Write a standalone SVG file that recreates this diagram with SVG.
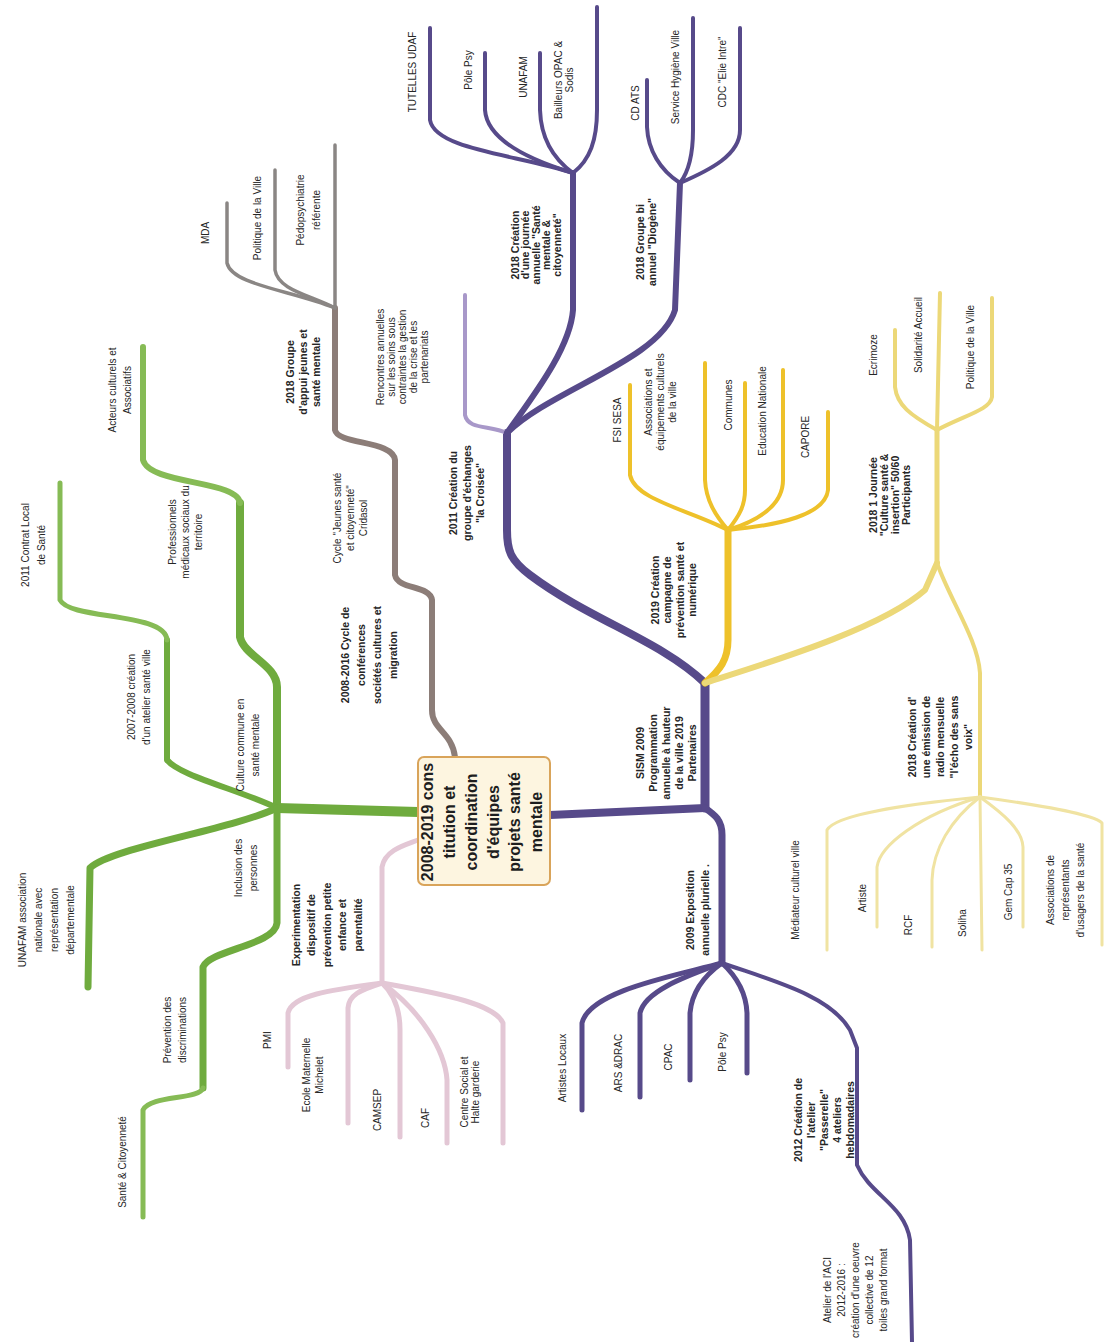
<svg xmlns="http://www.w3.org/2000/svg" width="1114" height="1342" viewBox="0 0 1114 1342">
<style>
text{font-family:"Liberation Sans",Arial,sans-serif;fill:#262626}
.s{font-size:10px}
.b{font-size:10.5px;font-weight:bold}
.c{font-size:16px;font-weight:bold;fill:#1e1e1e}
path{fill:none;stroke-linecap:round;stroke-linejoin:round}
.g{stroke:#6fab3e}
.gl{stroke:#86bb55}
.br{stroke:#8c7d78}
.gr{stroke:#8a8684}
.p{stroke:#574a8a}
.lp{stroke:#a898c9}
.y{stroke:#eec12a}
.ly{stroke:#ecd878}
.vy{stroke:#f0e3a2}
.pk{stroke:#e3c7d5}
</style>
<rect width="1114" height="1342" fill="#ffffff"/>
<g id="connectors">
<!-- green -->
<path class="g" stroke-width="10" d="M418,812 L277,808"/>
<path class="g" stroke-width="8" d="M277,808 L277,687 C277,665 244,656 240,637 L240,503"/>
<path class="gl" stroke-width="6" d="M240,503 C238,480 150,485 143,460 L143,347"/>
<path class="g" stroke-width="6" d="M277,808 C240,790 180,776 167,760 L167,640"/>
<path class="gl" stroke-width="5" d="M167,640 C165,612 70,620 60,600 L60,483"/>
<path class="g" stroke-width="7" d="M277,808 C230,830 110,848 90,868 L88,987"/>
<path class="g" stroke-width="7" d="M277,808 L277,923 C275,945 210,950 203,967 L203,1088"/>
<path class="gl" stroke-width="5" d="M203,1088 C200,1100 150,1095 143,1110 L143,1217"/>
<!-- brown -->
<path class="br" stroke-width="6" d="M455,757 C452,732 432,730 432,710 L432,600 C430,585 398,590 395,575 L395,460 C393,440 338,445 335,430 L335,308"/>
<path class="gr" stroke-width="3.5" d="M335,308 L335,145"/>
<path class="gr" stroke-width="3.5" d="M335,308 C310,295 278,290 275,270 L275,170"/>
<path class="gr" stroke-width="3.5" d="M335,308 C290,290 232,285 227,263 L227,203"/>
<!-- purple -->
<path class="p" stroke-width="8" d="M550,815 L705,808"/>
<path class="p" stroke-width="9" d="M705,808 L705,683"/>
<path class="p" stroke-width="7" d="M705,808 C715,815 722,820 722,835 L722,963"/>
<path class="p" stroke-width="8" d="M705,683 C660,640 590,620 530,575 C510,560 507,550 507,530 L507,433"/>
<path class="lp" stroke-width="4" d="M507,433 C490,425 468,430 465,415 L465,295"/>
<path class="p" stroke-width="6" d="M507,433 C530,400 570,350 573,310 L573,173"/>
<path class="p" stroke-width="6" d="M507,433 C550,390 660,360 675,310 L680,183"/>
<path class="p" stroke-width="4" d="M573,173 C520,155 435,150 430,120 L430,28"/>
<path class="p" stroke-width="4" d="M573,173 C530,160 487,140 485,110 L485,53"/>
<path class="p" stroke-width="4" d="M573,173 C555,160 541,140 540,110 L540,53"/>
<path class="p" stroke-width="4" d="M573,173 C590,160 597,140 597,110 L597,7"/>
<path class="p" stroke-width="4" d="M680,183 C660,170 648,150 647,127 L647,80"/>
<path class="p" stroke-width="4" d="M680,183 C690,170 693,150 693,130 L693,18"/>
<path class="p" stroke-width="4" d="M680,183 C710,170 740,155 740,130 L740,28"/>
<path class="p" stroke-width="5" d="M722,963 C680,975 590,990 582,1023 L582,1110"/>
<path class="p" stroke-width="5" d="M722,963 C690,975 645,990 640,1013 L640,1097"/>
<path class="p" stroke-width="5" d="M722,963 C705,975 692,990 690,1013 L690,1080"/>
<path class="p" stroke-width="5" d="M722,963 C735,975 746,990 747,1013 L747,1073"/>
<path class="p" stroke-width="4" d="M722,963 C770,980 830,995 850,1030 L857,1048 L857,1165 C870,1195 905,1205 910,1240 L912,1342"/>
<!-- gold -->
<path class="y" stroke-width="7" d="M705,683 C720,670 728,660 728,640 L728,530"/>
<path class="y" stroke-width="4" d="M728,530 C690,510 635,500 630,475 L630,385"/>
<path class="y" stroke-width="4" d="M728,530 C715,515 706,500 705,480 L705,363"/>
<path class="y" stroke-width="4" d="M728,530 C740,515 745,505 745,490 L745,383"/>
<path class="y" stroke-width="4" d="M728,530 C760,520 783,505 783,480 L783,370"/>
<path class="y" stroke-width="4" d="M728,530 C780,525 825,515 828,490 L828,412"/>
<!-- light yellow -->
<path class="ly" stroke-width="6" d="M705,683 C760,665 880,630 925,590 L937,563"/>
<path class="ly" stroke-width="5" d="M937,563 L937,430"/>
<path class="ly" stroke-width="4" d="M937,430 C910,415 897,405 895,387 L895,330"/>
<path class="ly" stroke-width="4" d="M937,430 L940,293"/>
<path class="ly" stroke-width="4" d="M937,430 C965,415 990,410 992,397 L992,298"/>
<path class="ly" stroke-width="4" d="M937,563 C950,600 978,640 980,673 L980,797"/>
<path class="vy" stroke-width="3" d="M980,797 C900,805 835,815 827,830 L827,950"/>
<path class="vy" stroke-width="3" d="M980,797 C920,815 880,845 877,867 L877,927"/>
<path class="vy" stroke-width="3" d="M980,797 C950,820 933,850 932,880 L932,947"/>
<path class="vy" stroke-width="3" d="M980,797 L982,950"/>
<path class="vy" stroke-width="3" d="M980,797 C1005,815 1022,830 1023,847 L1023,927"/>
<path class="vy" stroke-width="3" d="M980,797 C1040,805 1095,815 1102,823 L1102,945"/>
<!-- pink -->
<path class="pk" stroke-width="5" d="M418,840 C405,845 385,850 382,867 L382,983"/>
<path class="pk" stroke-width="5" d="M382,983 C330,990 292,995 288,1013 L288,1067"/>
<path class="pk" stroke-width="5" d="M382,983 C360,990 349,995 348,1008 L348,1123"/>
<path class="pk" stroke-width="5" d="M382,983 C395,995 400,1010 400,1030 L400,1137"/>
<path class="pk" stroke-width="5" d="M382,983 C420,1010 445,1050 447,1080 L447,1143"/>
<path class="pk" stroke-width="5" d="M382,983 C450,995 495,1005 503,1023 L503,1143"/>
</g>
<g id="center">
<rect x="418" y="757" width="132" height="128" rx="6" fill="#fdf5e0" stroke="#d9a45a" stroke-width="2"/>
<text class="c" transform="translate(482,822) rotate(-90)" text-anchor="middle"><tspan x="0" y="-48.9">2008-2019 cons</tspan><tspan x="0" y="-27.1">titution et</tspan><tspan x="0" y="-5.3">coordination</tspan><tspan x="0" y="16.5">d'équipes</tspan><tspan x="0" y="38.3">projets santé</tspan><tspan x="0" y="60.1">mentale</tspan></text>
</g>
<g id="green-labels" text-anchor="middle">
<g id="n-acteurs"><text class="s" transform="translate(120,390) rotate(-90)"><tspan x="0" y="-4">Acteurs culturels et</tspan><tspan x="0" y="11">Associatifs</tspan></text></g>
<g id="n-professionnels"><text class="s" transform="translate(185,532) rotate(-90)"><tspan x="0" y="-9.5">Professionnels</tspan><tspan x="0" y="3.5">médicaux sociaux du</tspan><tspan x="0" y="16.5">territoire</tspan></text></g>
<g id="n-contrat"><text class="s" transform="translate(33,545) rotate(-90)"><tspan x="0" y="-4.5">2011 Contrat Local</tspan><tspan x="0" y="11.5">de Santé</tspan></text></g>
<g id="n-atelier-sante"><text class="s" transform="translate(139,697) rotate(-90)"><tspan x="0" y="-4">2007-2008 création</tspan><tspan x="0" y="11">d'un atelier santé ville</tspan></text></g>
<g id="n-culture"><text class="s" transform="translate(248,745) rotate(-90)"><tspan x="0" y="-4">Culture commune en</tspan><tspan x="0" y="11">santé mentale</tspan></text></g>
<g id="n-inclusion"><text class="s" transform="translate(246,868) rotate(-90)"><tspan x="0" y="-4">Inclusion des</tspan><tspan x="0" y="11">personnes</tspan></text></g>
<g id="n-unafam-asso"><text class="s" transform="translate(46,920) rotate(-90)"><tspan x="0" y="-20.5">UNAFAM association</tspan><tspan x="0" y="-4.5">nationale avec</tspan><tspan x="0" y="11.5">représentation</tspan><tspan x="0" y="27.5">départementale</tspan></text></g>
<g id="n-prevention"><text class="s" transform="translate(175,1030) rotate(-90)"><tspan x="0" y="-4">Prévention des</tspan><tspan x="0" y="11">discriminations</tspan></text></g>
<g id="n-citoyennete"><text class="s" transform="translate(122,1162) rotate(-90)"><tspan x="0" y="3.5">Santé &amp; Citoyenneté</tspan></text></g>
</g>
<g id="brown-labels" text-anchor="middle">
<g id="n-mda"><text class="s" transform="translate(205,233) rotate(-90)"><tspan x="0" y="3.5">MDA</tspan></text></g>
<g id="n-politique1"><text class="s" transform="translate(257,218) rotate(-90)"><tspan x="0" y="3.5">Politique de la Ville</tspan></text></g>
<g id="n-pedopsy"><text class="s" transform="translate(308,210) rotate(-90)"><tspan x="0" y="-4.5">Pédopsychiatrie</tspan><tspan x="0" y="11.5">référente</tspan></text></g>
<g id="n-groupe-appui"><text class="b" transform="translate(303,372) rotate(-90)"><tspan x="0" y="-9.3">2018 Groupe</tspan><tspan x="0" y="3.7">d'appui jeunes et</tspan><tspan x="0" y="16.7">santé mentale</tspan></text></g>
<g id="n-cycle-jeunes"><text class="s" transform="translate(350,518) rotate(-90)"><tspan x="0" y="-9.5">Cycle "Jeunes santé</tspan><tspan x="0" y="3.5">et citoyenneté"</tspan><tspan x="0" y="16.5">Cridasol</tspan></text></g>
<g id="n-conferences"><text class="b" transform="translate(369,655) rotate(-90)"><tspan x="0" y="-20.3">2008-2016 Cycle de</tspan><tspan x="0" y="-4.3">conférences</tspan><tspan x="0" y="11.7">sociétés cultures et</tspan><tspan x="0" y="27.7">migration</tspan></text></g>
</g>
<g id="purple-labels" text-anchor="middle">
<g id="n-rencontres"><text class="s" transform="translate(402,357) rotate(-90)"><tspan x="0" y="-18.5">Rencontres annuelles</tspan><tspan x="0" y="-7.5">sur les soins sous</tspan><tspan x="0" y="3.5">contraintes la gestion</tspan><tspan x="0" y="14.5">de la crise et les</tspan><tspan x="0" y="25.5">partenariats</tspan></text></g>
<g id="n-croisee"><text class="b" transform="translate(467,493) rotate(-90)"><tspan x="0" y="-9.8">2011 Création du</tspan><tspan x="0" y="3.7">groupe d'échanges</tspan><tspan x="0" y="17.2">"la Croisée"</tspan></text></g>
<g id="n-tutelles"><text class="s" transform="translate(412,72) rotate(-90)"><tspan x="0" y="3.5">TUTELLES UDAF</tspan></text></g>
<g id="n-polepsy1"><text class="s" transform="translate(468,70) rotate(-90)"><tspan x="0" y="3.5">Pôle Psy</tspan></text></g>
<g id="n-unafam"><text class="s" transform="translate(523,77) rotate(-90)"><tspan x="0" y="3.5">UNAFAM</tspan></text></g>
<g id="n-bailleurs"><text class="s" transform="translate(564,80) rotate(-90)"><tspan x="0" y="-2">Bailleurs OPAC &amp;</tspan><tspan x="0" y="9">Sodis</tspan></text></g>
<g id="n-journee"><text class="b" transform="translate(536,245) rotate(-90)"><tspan x="0" y="-17.3">2018 Création</tspan><tspan x="0" y="-6.8">d'une journée</tspan><tspan x="0" y="3.7">annuelle "Santé</tspan><tspan x="0" y="14.2">mentale &amp;</tspan><tspan x="0" y="24.7">citoyenneté"</tspan></text></g>
<g id="n-cdats"><text class="s" transform="translate(635,103) rotate(-90)"><tspan x="0" y="3.5">CD ATS</tspan></text></g>
<g id="n-hygiene"><text class="s" transform="translate(675,77) rotate(-90)"><tspan x="0" y="3.5">Service Hygiène Ville</tspan></text></g>
<g id="n-cdc"><text class="s" transform="translate(722,72) rotate(-90)"><tspan x="0" y="3.5">CDC "Elie Intre"</tspan></text></g>
<g id="n-diogene"><text class="b" transform="translate(646,242) rotate(-90)"><tspan x="0" y="-2.3">2018 Groupe bi</tspan><tspan x="0" y="9.7">annuel "Diogène"</tspan></text></g>
<g id="n-sism"><text class="b" transform="translate(666,753) rotate(-90)"><tspan x="0" y="-22.3">SISM 2009</tspan><tspan x="0" y="-9.3">Programmation</tspan><tspan x="0" y="3.7">annuelle à hauteur</tspan><tspan x="0" y="16.7">de la ville 2019</tspan><tspan x="0" y="29.7">Partenaires</tspan></text></g>
<g id="n-exposition"><text class="b" transform="translate(698,910) rotate(-90)"><tspan x="0" y="-3.8">2009 Exposition</tspan><tspan x="0" y="11.2">annuelle plurielle .</tspan></text></g>
<g id="n-artistes"><text class="s" transform="translate(562,1068) rotate(-90)"><tspan x="0" y="3.5">Artistes Locaux</tspan></text></g>
<g id="n-ars"><text class="s" transform="translate(618,1063) rotate(-90)"><tspan x="0" y="3.5">ARS &amp;DRAC</tspan></text></g>
<g id="n-cpac"><text class="s" transform="translate(668,1057) rotate(-90)"><tspan x="0" y="3.5">CPAC</tspan></text></g>
<g id="n-polepsy2"><text class="s" transform="translate(722,1052) rotate(-90)"><tspan x="0" y="3.5">Pôle Psy</tspan></text></g>
<g id="n-passerelle"><text class="b" transform="translate(824,1120) rotate(-90)"><tspan x="0" y="-22.3">2012 Création de</tspan><tspan x="0" y="-9.3">l'atelier</tspan><tspan x="0" y="3.7">"Passerelle"</tspan><tspan x="0" y="16.7">4 ateliers</tspan><tspan x="0" y="29.7">hebdomadaires</tspan></text></g>
<g id="n-atelier-aci"><text class="s" transform="translate(855,1290) rotate(-90)"><tspan x="0" y="-24.5">Atelier de l'ACI</tspan><tspan x="0" y="-10.5">2012-2016 :</tspan><tspan x="0" y="3.5">création d'une oeuvre</tspan><tspan x="0" y="17.5">collective de 12</tspan><tspan x="0" y="31.5">toiles grand format</tspan></text></g>
</g>
<g id="yellow-labels" text-anchor="middle">
<g id="n-campagne"><text class="b" transform="translate(674,590) rotate(-90)"><tspan x="0" y="-15.05">2019 Création</tspan><tspan x="0" y="-2.55">campagne de</tspan><tspan x="0" y="9.95">prévention santé et</tspan><tspan x="0" y="22.45">numérique</tspan></text></g>
<g id="n-fsi"><text class="s" transform="translate(617,420) rotate(-90)"><tspan x="0" y="3.5">FSI SESA</tspan></text></g>
<g id="n-equipements"><text class="s" transform="translate(660,402) rotate(-90)"><tspan x="0" y="-8.5">Associations et</tspan><tspan x="0" y="3.5">équipements culturels</tspan><tspan x="0" y="15.5">de la ville</tspan></text></g>
<g id="n-communes"><text class="s" transform="translate(728,405) rotate(-90)"><tspan x="0" y="3.5">Communes</tspan></text></g>
<g id="n-education"><text class="s" transform="translate(762,411) rotate(-90)"><tspan x="0" y="3.5">Education Nationale</tspan></text></g>
<g id="n-capore"><text class="s" transform="translate(805,437) rotate(-90)"><tspan x="0" y="3.5">CAPORE</tspan></text></g>
<g id="n-journee-culture"><text class="b" transform="translate(890,495) rotate(-90)"><tspan x="0" y="-12.8">2018 1 Journée</tspan><tspan x="0" y="-1.8">"Culture santé &amp;</tspan><tspan x="0" y="9.2">insertion" 50/60</tspan><tspan x="0" y="20.2">Participants</tspan></text></g>
<g id="n-ecrimoze"><text class="s" transform="translate(873,355) rotate(-90)"><tspan x="0" y="3.5">Ecrimoze</tspan></text></g>
<g id="n-solidarite"><text class="s" transform="translate(918,335) rotate(-90)"><tspan x="0" y="3.5">Solidarité Accueil</tspan></text></g>
<g id="n-politique2"><text class="s" transform="translate(970,347) rotate(-90)"><tspan x="0" y="3.5">Politique de la Ville</tspan></text></g>
<g id="n-radio"><text class="b" transform="translate(940,737) rotate(-90)"><tspan x="0" y="-24.3">2018 Création d'</tspan><tspan x="0" y="-10.3">une émission de</tspan><tspan x="0" y="3.7">radio mensuelle</tspan><tspan x="0" y="17.7">"l'écho des sans</tspan><tspan x="0" y="31.7">voix"</tspan></text></g>
<g id="n-mediateur"><text class="s" transform="translate(795,890) rotate(-90)"><tspan x="0" y="3.5">Médiateur culturel ville</tspan></text></g>
<g id="n-artiste"><text class="s" transform="translate(862,898) rotate(-90)"><tspan x="0" y="3.5">Artiste</tspan></text></g>
<g id="n-rcf"><text class="s" transform="translate(908,925) rotate(-90)"><tspan x="0" y="3.5">RCF</tspan></text></g>
<g id="n-soliha"><text class="s" transform="translate(962,923) rotate(-90)"><tspan x="0" y="3.5">Soliha</tspan></text></g>
<g id="n-gemcap"><text class="s" transform="translate(1008,892) rotate(-90)"><tspan x="0" y="3.5">Gem Cap 35</tspan></text></g>
<g id="n-usagers"><text class="s" transform="translate(1065,890) rotate(-90)"><tspan x="0" y="-11.5">Associations de</tspan><tspan x="0" y="3.5">représentants</tspan><tspan x="0" y="18.5">d'usagers de la santé</tspan></text></g>
</g>
<g id="pink-labels" text-anchor="middle">
<g id="n-experimentation"><text class="b" transform="translate(327,925) rotate(-90)"><tspan x="0" y="-27.3">Experimentation</tspan><tspan x="0" y="-11.8">dispositif de</tspan><tspan x="0" y="3.7">prévention petite</tspan><tspan x="0" y="19.2">enfance et</tspan><tspan x="0" y="34.7">parentalité</tspan></text></g>
<g id="n-pmi"><text class="s" transform="translate(267,1040) rotate(-90)"><tspan x="0" y="3.5">PMI</tspan></text></g>
<g id="n-ecole"><text class="s" transform="translate(313,1075) rotate(-90)"><tspan x="0" y="-3">Ecole Maternelle</tspan><tspan x="0" y="10">Michelet</tspan></text></g>
<g id="n-camsep"><text class="s" transform="translate(377,1110) rotate(-90)"><tspan x="0" y="3.5">CAMSEP</tspan></text></g>
<g id="n-caf"><text class="s" transform="translate(425,1118) rotate(-90)"><tspan x="0" y="3.5">CAF</tspan></text></g>
<g id="n-centre-social"><text class="s" transform="translate(470,1092) rotate(-90)"><tspan x="0" y="-2">Centre Social et</tspan><tspan x="0" y="9">Halte garderie</tspan></text></g>
</g>
</svg>
